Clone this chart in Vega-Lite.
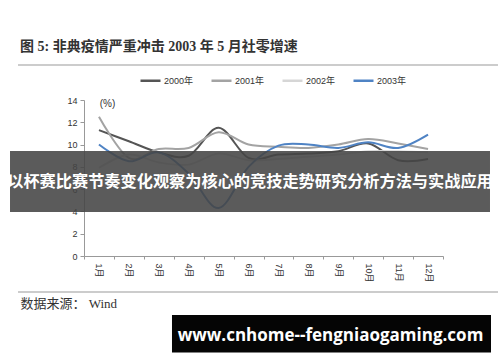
{
  "$schema": "https://vega.github.io/schema/vega-lite/v6.json",
  "width": 359,
  "height": 156,
  "autosize": "none",
  "padding": {"left": 84, "top": 100, "right": 57, "bottom": 106},
  "background": "white",
  "config": {"view": {"stroke": null}},
  "title": {
    "text": "图 5:  非典疫情严重冲击 2003 年 5 月社零增速",
    "anchor": "start",
    "frame": "group",
    "dx": -64,
    "offset": 11,
    "font": "Liberation Serif, Noto Sans CJK SC",
    "fontSize": 14,
    "fontWeight": "bold",
    "color": "#333333"
  },
  "resolve": {"scale": {"x": "independent", "y": "independent"}},
  "layer": [
    {
      "data": {"values": [
        {"month": "1月", "year": "2000年", "value": 11.3},
        {"month": "2月", "year": "2000年", "value": 10.3},
        {"month": "3月", "year": "2000年", "value": 9.3},
        {"month": "4月", "year": "2000年", "value": 9.0},
        {"month": "5月", "year": "2000年", "value": 11.5},
        {"month": "6月", "year": "2000年", "value": 8.8},
        {"month": "7月", "year": "2000年", "value": 9.1},
        {"month": "8月", "year": "2000年", "value": 9.2},
        {"month": "9月", "year": "2000年", "value": 9.4},
        {"month": "10月", "year": "2000年", "value": 10.1},
        {"month": "11月", "year": "2000年", "value": 8.6},
        {"month": "12月", "year": "2000年", "value": 8.7},
        {"month": "1月", "year": "2001年", "value": 12.5},
        {"month": "2月", "year": "2001年", "value": 8.8},
        {"month": "3月", "year": "2001年", "value": 9.6},
        {"month": "4月", "year": "2001年", "value": 9.7},
        {"month": "5月", "year": "2001年", "value": 11.1},
        {"month": "6月", "year": "2001年", "value": 10.0},
        {"month": "7月", "year": "2001年", "value": 9.8},
        {"month": "8月", "year": "2001年", "value": 9.7},
        {"month": "9月", "year": "2001年", "value": 10.0},
        {"month": "10月", "year": "2001年", "value": 10.5},
        {"month": "11月", "year": "2001年", "value": 10.1},
        {"month": "12月", "year": "2001年", "value": 9.6},
        {"month": "1月", "year": "2002年", "value": 7.9},
        {"month": "2月", "year": "2002年", "value": 9.1},
        {"month": "3月", "year": "2002年", "value": 8.4},
        {"month": "4月", "year": "2002年", "value": 8.2},
        {"month": "5月", "year": "2002年", "value": 9.2},
        {"month": "6月", "year": "2002年", "value": 8.6},
        {"month": "7月", "year": "2002年", "value": 8.7},
        {"month": "8月", "year": "2002年", "value": 8.9},
        {"month": "9月", "year": "2002年", "value": 9.1},
        {"month": "10月", "year": "2002年", "value": 9.4},
        {"month": "11月", "year": "2002年", "value": 9.4},
        {"month": "12月", "year": "2002年", "value": 9.3},
        {"month": "1月", "year": "2003年", "value": 10.0},
        {"month": "2月", "year": "2003年", "value": 8.5},
        {"month": "3月", "year": "2003年", "value": 9.3},
        {"month": "4月", "year": "2003年", "value": 7.4},
        {"month": "5月", "year": "2003年", "value": 4.3},
        {"month": "6月", "year": "2003年", "value": 8.0},
        {"month": "7月", "year": "2003年", "value": 9.9},
        {"month": "8月", "year": "2003年", "value": 10.0},
        {"month": "9月", "year": "2003年", "value": 9.7},
        {"month": "10月", "year": "2003年", "value": 10.2},
        {"month": "11月", "year": "2003年", "value": 9.7},
        {"month": "12月", "year": "2003年", "value": 10.9}
      ]},
      "mark": {"type": "line", "interpolate": "cardinal", "strokeWidth": 2},
      "encoding": {
        "x": {
          "field": "month",
          "type": "ordinal",
          "sort": ["1月", "2月", "3月", "4月", "5月", "6月", "7月", "8月", "9月", "10月", "11月", "12月"],
          "bandPosition": 0.5,
          "scale": {"type": "band", "paddingInner": 0, "paddingOuter": 0},
          "axis": {
            "tickBand": "extent",
            "domainColor": "#999999",
            "tickColor": "#999999",
            "tickSize": 3,
            "labelAngle": 90,
            "labelAlign": "left",
            "labelBaseline": "middle",
            "labelFont": "Liberation Sans, Noto Sans CJK SC",
            "labelFontSize": 9,
            "labelColor": "#333333",
            "labelPadding": 4,
            "title": "数据来源： Wind",
            "titleFont": "Liberation Serif, Noto Sans CJK SC",
            "titleFontSize": 13,
            "titleFontWeight": "normal",
            "titleColor": "#333333",
            "titleAnchor": "start",
            "titleAlign": "left",
            "titleBaseline": "middle",
            "titleX": -64,
            "titleY": 47
          }
        },
        "y": {
          "field": "value",
          "type": "quantitative",
          "scale": {"domain": [0, 14], "nice": false, "zero": true},
          "axis": {
            "values": [0, 2, 4, 6, 8, 10, 12, 14],
            "grid": false,
            "domainColor": "#999999",
            "tickColor": "#999999",
            "tickSize": 4,
            "labelFont": "Liberation Sans",
            "labelFontSize": 9,
            "labelColor": "#333333",
            "labelPadding": 3,
            "title": "(%)",
            "titleAngle": 0,
            "titleX": 23,
            "titleY": 3,
            "titleAlign": "center",
            "titleBaseline": "middle",
            "titleFont": "Liberation Sans",
            "titleFontSize": 10,
            "titleFontWeight": "normal",
            "titleColor": "#333333"
          }
        },
        "color": {
          "field": "year",
          "type": "nominal",
          "scale": {
            "domain": ["2000年", "2001年", "2002年", "2003年"],
            "range": ["#555555", "#a3a3a3", "#d6d6d6", "#4f83c4"]
          },
          "legend": {
            "title": null,
            "orient": "none",
            "direction": "horizontal",
            "legendX": 55,
            "legendY": -31,
            "padding": 0,
            "symbolType": "stroke",
            "symbolSize": 400,
            "symbolStrokeWidth": 2.5,
            "labelFont": "Liberation Sans, Noto Sans CJK SC",
            "labelFontSize": 9,
            "labelColor": "#333333",
            "labelOffset": 2,
            "columnPadding": 12
          }
        }
      }
    },
    {
      "data": {"values": [{"x": -0.2061, "x2": 1.1309, "y": 9.423, "y2": 3.949}]},
      "mark": {"type": "rect", "fill": "#444444", "opacity": 0.88},
      "encoding": {
        "x": {"field": "x", "type": "quantitative", "scale": {"domain": [0, 1], "nice": false, "zero": false}, "axis": null},
        "x2": {"field": "x2"},
        "y": {"field": "y", "type": "quantitative", "scale": {"domain": [0, 14], "nice": false, "zero": false}, "axis": null},
        "y2": {"field": "y2"}
      }
    },
    {
      "data": {"values": [{"x": 0.4624, "y": 6.64, "label": "以杯赛比赛节奏变化观察为核心的竞技走势研究分析方法与实战应用"}]},
      "mark": {"type": "text", "font": "Noto Sans CJK SC", "fontSize": 16.2, "fontWeight": "bold", "color": "#ffffff", "align": "center", "baseline": "middle"},
      "encoding": {
        "x": {"field": "x", "type": "quantitative", "scale": {"domain": [0, 1], "nice": false, "zero": false}, "axis": null},
        "y": {"field": "y", "type": "quantitative", "scale": {"domain": [0, 14], "nice": false, "zero": false}, "axis": null},
        "text": {"field": "label"}
      }
    },
    {
      "data": {"values": [{"x": -0.1838, "x2": 1.1532, "y": 17.141}, {"x": -0.1838, "x2": 1.1532, "y": -3.231}]},
      "mark": {"type": "rule", "color": "#999999", "strokeWidth": 1},
      "encoding": {
        "x": {"field": "x", "type": "quantitative", "scale": {"domain": [0, 1], "nice": false, "zero": false}, "axis": null},
        "x2": {"field": "x2"},
        "y": {"field": "y", "type": "quantitative", "scale": {"domain": [0, 14], "nice": false, "zero": false}, "axis": null}
      }
    },
    {
      "data": {"values": [{"x": 0.2451, "x2": 1.1337, "y": -5.295, "y2": -8.66}]},
      "mark": {"type": "rect", "fill": "#050505"},
      "encoding": {
        "x": {"field": "x", "type": "quantitative", "scale": {"domain": [0, 1], "nice": false, "zero": false}, "axis": null},
        "x2": {"field": "x2"},
        "y": {"field": "y", "type": "quantitative", "scale": {"domain": [0, 14], "nice": false, "zero": false}, "axis": null},
        "y2": {"field": "y2"}
      }
    },
    {
      "data": {"values": [{"x": 0.6866, "y": -7.18, "label": "www.cnhome--fengniaogaming.com"}]},
      "mark": {"type": "text", "font": "Open Sans", "fontSize": 17, "fontWeight": "bold", "color": "#ffffff", "align": "center", "baseline": "middle"},
      "encoding": {
        "x": {"field": "x", "type": "quantitative", "scale": {"domain": [0, 1], "nice": false, "zero": false}, "axis": null},
        "y": {"field": "y", "type": "quantitative", "scale": {"domain": [0, 14], "nice": false, "zero": false}, "axis": null},
        "text": {"field": "label"}
      }
    }
  ]
}
